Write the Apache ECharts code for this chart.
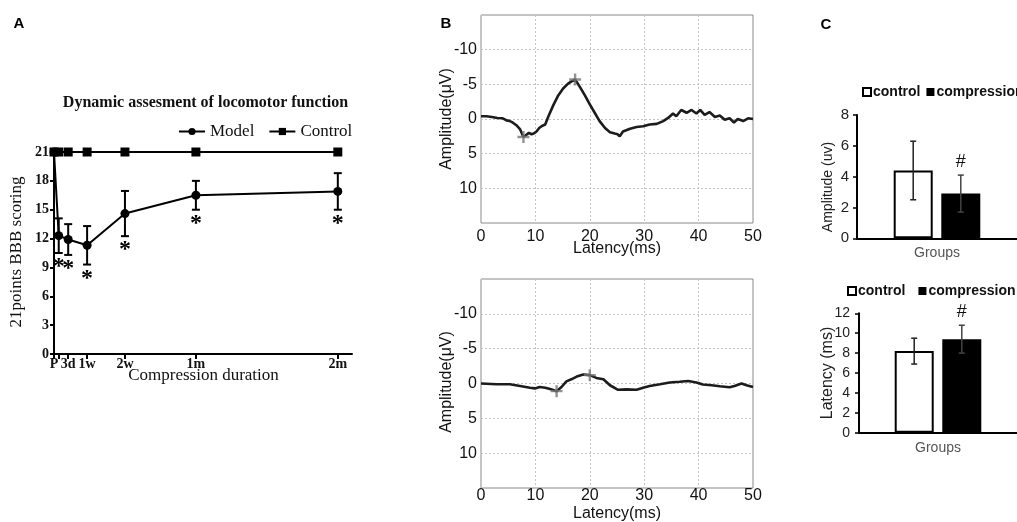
<!DOCTYPE html>
<html><head><meta charset="utf-8">
<script src="https://cdn.jsdelivr.net/npm/echarts@6/dist/echarts.min.js"></script>
<style>html,body{margin:0;padding:0;background:#fff;}#c{width:1017px;height:522px;}</style>
</head><body><div id="c"></div>
<script>
// ---------- Panel A data ----------
const aDays = [0, 1, 3, 7, 15, 30, 60];
const aTickDays = [0, 1, 3, 7, 15, 30, 60];
const aLabelDays = [0, 3, 7, 15, 30, 60];
const aLabelText = ['P', '3d', '1w', '2w', '1m', '2m'];
const modelMean = [21, 12.3, 11.9, 11.3, 14.6, 16.5, 16.9];
const modelErr = [0, 1.8, 1.6, 2.0, 2.35, 1.5, 1.9];
const modelSig = [0, 1, 1, 1, 1, 1, 1];
const controlMean = [21, 21, 21, 21, 21, 21, 21];

// ---------- Panel B data (latency ms, amplitude uV) ----------
const sepTopX = [0,1,2,3,4,4.7,5.3,5.8,6.5,7.2,7.8,8.3,8.8,9.3,9.7,10.2,10.7,11.2,11.8,12.4,13.3,14.2,15.1,16.0,16.8,17.3,18.2,19.1,20.0,20.9,21.8,22.8,23.7,24.6,25.1,25.5,26.1,27.4,28.6,29.8,31.0,32.3,33.5,34.4,35.3,35.9,36.8,37.8,38.7,39.6,40.3,41.1,42.0,43.0,43.9,44.8,45.7,46.5,47.2,48.2,49.1,50];
const sepTopY = [-0.4,-0.4,-0.3,-0.15,-0.1,0.2,0.3,0.5,0.9,1.5,2.6,2.3,2.0,2.2,2.1,1.8,1.3,1.0,0.8,-0.4,-2.0,-3.4,-4.4,-5.1,-5.5,-5.7,-4.6,-3.4,-2.1,-0.9,0.3,1.3,1.9,2.1,2.2,2.5,1.8,1.4,1.15,1.05,0.8,0.7,0.3,-0.15,-0.8,-0.4,-1.3,-0.9,-1.3,-0.8,-1.3,-0.6,-1.0,-0.3,-0.5,0.1,-0.1,0.5,0.0,0.3,-0.1,0.0];
const sepTopMarkX = [7.8, 17.3];
const sepTopMarkY = [2.6, -5.7];
const sepBotX = [0,2.9,5.3,7.2,9.0,9.9,10.8,11.8,12.7,13.9,14.8,15.7,16.6,17.6,18.8,20.0,21.2,22.5,23.7,25.2,26.7,28.6,29.8,31.0,32.9,34.7,36.5,38.1,39.6,40.8,42.4,43.9,45.7,46.6,47.9,48.8,50];
const sepBotY = [0,0.1,0.1,0.35,0.6,0.7,0.5,0.6,0.8,1.1,0.5,-0.3,-0.6,-1.0,-1.3,-1.2,-0.8,-0.6,0.25,0.9,0.85,0.9,0.6,0.35,0.1,-0.15,-0.25,-0.35,-0.15,0.15,0.25,0.4,0.55,0.35,0,0.25,0.5];
const sepBotMarkX = [13.9, 20.0];
const sepBotMarkY = [1.1, -1.2];

// ---------- Panel C data ----------
const cCategories = ['Groups'];
const ampMean = [4.4, 2.9];     // control, compression
const ampErr = [1.9, 1.2];
const latMean = [8.2, 9.4];
const latErr = [1.3, 1.4];
const cHash = [0, 1];

const SERIF = '"Liberation Serif", "Times New Roman", serif';
const SANS = '"Liberation Sans", Arial, sans-serif';
const BAR_W = 39, BAR_GAP = 0.22;

const chart = echarts.init(document.getElementById('c'), null, {renderer: 'canvas'});

function pairs(xs, ys) { return xs.map((x, i) => [x, ys[i]]); }

function bX(gi, margin) {
  return {type: 'value', gridIndex: gi, min: 0, max: 50, interval: 10,
    axisLine: {show: false}, axisTick: {show: false},
    axisLabel: {fontSize: 16, color: '#111', margin: margin, fontFamily: SANS},
    splitLine: {show: true, lineStyle: {type: [2, 2], color: '#c4c4c4', width: 1}}};
}
function bY(gi) {
  return {type: 'value', gridIndex: gi, min: -15, max: 15, interval: 5, inverse: true,
    axisLine: {show: false}, axisTick: {show: false},
    axisLabel: {fontSize: 16, color: '#111', margin: 4, fontFamily: SANS,
      formatter: v => (Math.abs(v) === 15 ? '' : String(v))},
    splitLine: {show: true, lineStyle: {type: [2, 2], color: '#c4c4c4', width: 1}}};
}
function cX(gi) {
  return {type: 'category', gridIndex: gi, data: cCategories,
    axisLine: {lineStyle: {color: '#000', width: 2}}, axisTick: {show: false},
    axisLabel: {fontSize: 14, color: '#555', margin: 8, fontFamily: SANS}};
}
function cY(gi, max, fs, margin) {
  return {type: 'value', gridIndex: gi, min: 0, max: max, interval: 2,
    axisLine: {show: true, lineStyle: {color: '#000', width: 2}},
    axisTick: {show: true, length: 4, lineStyle: {color: '#000', width: 1.5}},
    axisLabel: {fontSize: fs, color: '#222', margin: margin, fontFamily: SANS},
    splitLine: {show: false}};
}
function cLegend(left, top, gap) {
  return {left: left, top: top, width: 400, orient: 'horizontal', itemWidth: 8, itemHeight: 8, itemGap: gap, icon: 'rect',
    textStyle: {fontFamily: SANS, fontSize: 14, fontWeight: 'bold', color: '#111', padding: [0, 0, 0, -3]},
    data: [{name: 'control', itemStyle: {color: '#fff', borderColor: '#000', borderWidth: 2}},
           {name: 'compression', itemStyle: {color: '#000', borderColor: '#000', borderWidth: 0}}]};
}

function errC(params, api) {
  const cat = api.value(0), m = api.value(1), e = api.value(2), side = api.value(3), hash = api.value(4);
  const off = (BAR_W * (1 + BAR_GAP)) / 2 * side;
  const c = api.coord([cat, m]);
  const x = c[0] + off;
  const yt = api.coord([cat, m + e])[1];
  const yb = api.coord([cat, m - e])[1];
  const cw = 3;
  const st = {stroke: side < 0 ? '#222' : '#444', lineWidth: 1.5};
  const ch = [
    {type: 'line', shape: {x1: x, y1: yt, x2: x, y2: yb}, style: st},
    {type: 'line', shape: {x1: x - cw, y1: yt, x2: x + cw, y2: yt}, style: st},
    {type: 'line', shape: {x1: x - cw, y1: yb, x2: x + cw, y2: yb}, style: st}
  ];
  if (hash) ch.push({type: 'text', x: x, y: yt - 13, style: {text: '#', font: '18px ' + SANS, fill: '#111', align: 'center', verticalAlign: 'middle'}});
  return {type: 'group', children: ch};
}

const option = {
  animation: false,
  backgroundColor: '#fff',
  grid: [
    {left: 54, top: 152, width: 298, height: 202},
    {left: 481, top: 15, width: 272, height: 208, show: true, borderColor: '#8a8a8a', borderWidth: 1},
    {left: 481, top: 279, width: 272, height: 209, show: true, borderColor: '#8a8a8a', borderWidth: 1},
    {left: 857, top: 115, width: 171, height: 123.3},
    {left: 859, top: 313.3, width: 167, height: 119.4}
  ],
  xAxis: [
    {type: 'value', gridIndex: 0, min: 0, max: 63,
      axisLine: {lineStyle: {color: '#000', width: 2}},
      axisTick: {show: true, customValues: aTickDays, length: 5, lineStyle: {color: '#000', width: 2}},
      axisLabel: {customValues: aLabelDays, margin: 3, fontSize: 14, fontWeight: 'bold', color: '#111', fontFamily: SERIF,
        formatter: v => { const i = aLabelDays.indexOf(v); return i >= 0 ? aLabelText[i] : ''; }},
      splitLine: {show: false}},
    bX(1, 6), bX(2, 0), cX(3), cX(4)
  ],
  yAxis: [
    {type: 'value', gridIndex: 0, min: 0, max: 21, interval: 3,
      axisLine: {show: true, lineStyle: {color: '#000', width: 2}},
      axisTick: {show: true, length: 4, lineStyle: {color: '#000', width: 2}},
      axisLabel: {margin: 5, fontSize: 14, fontWeight: 'bold', color: '#111', fontFamily: SERIF},
      splitLine: {show: false}},
    bY(1), bY(2), cY(3, 8, 15, 8), cY(4, 12, 14, 9)
  ],
  legend: [
    {left: 173, top: 118, itemWidth: 26, itemHeight: 9, itemGap: 14,
      textStyle: {fontFamily: SERIF, fontSize: 17, color: '#111'},
      data: ['Model', 'Control']},
    cLegend(857, 80, 6),
    cLegend(842, 279, 13)
  ],
  series: [
    // Panel A
    {name: 'Control', type: 'line', xAxisIndex: 0, yAxisIndex: 0,
      data: pairs(aDays, controlMean), symbol: 'rect', symbolSize: 9,
      itemStyle: {color: '#000'}, lineStyle: {color: '#000', width: 1.8}, z: 3},
    {name: 'Model', type: 'line', xAxisIndex: 0, yAxisIndex: 0,
      data: pairs(aDays, modelMean), symbol: 'circle', symbolSize: 9,
      itemStyle: {color: '#000'}, lineStyle: {color: '#000', width: 2}, z: 4},
    {name: 'ModelErr', type: 'custom', xAxisIndex: 0, yAxisIndex: 0, z: 5,
      data: aDays.map((d, i) => [d, modelMean[i], modelErr[i], modelSig[i]]),
      renderItem: function (params, api) {
        const x = api.value(0), m = api.value(1), e = api.value(2), sig = api.value(3);
        if (!e) return null;
        const t = api.coord([x, m + e]), b = api.coord([x, m - e]);
        const st = {stroke: '#000', lineWidth: 2};
        const ch = [
          {type: 'line', shape: {x1: t[0], y1: t[1], x2: b[0], y2: b[1]}, style: st},
          {type: 'line', shape: {x1: t[0] - 4, y1: t[1], x2: t[0] + 4, y2: t[1]}, style: st},
          {type: 'line', shape: {x1: b[0] - 4, y1: b[1], x2: b[0] + 4, y2: b[1]}, style: st}
        ];
        if (sig) ch.push({type: 'text', x: b[0], y: b[1] + 2,
          style: {text: '*', font: 'bold 24px ' + SERIF, fill: '#000', align: 'center', verticalAlign: 'top'}});
        return {type: 'group', children: ch};
      }},
    // Panel B
    {name: 'SEP top', type: 'line', xAxisIndex: 1, yAxisIndex: 1, data: pairs(sepTopX, sepTopY),
      showSymbol: false, lineStyle: {color: '#1c1c1c', width: 2.6}, z: 3},
    {name: 'SEP top peaks', type: 'scatter', xAxisIndex: 1, yAxisIndex: 1, data: pairs(sepTopMarkX, sepTopMarkY),
      symbol: 'path://M4,0H6V4H10V6H6V10H4V6H0V4H4Z', symbolSize: 12, itemStyle: {color: '#777'}, z: 4},
    {name: 'SEP bottom', type: 'line', xAxisIndex: 2, yAxisIndex: 2, data: pairs(sepBotX, sepBotY),
      showSymbol: false, lineStyle: {color: '#1c1c1c', width: 2.6}, z: 3},
    {name: 'SEP bottom peaks', type: 'scatter', xAxisIndex: 2, yAxisIndex: 2, data: pairs(sepBotMarkX, sepBotMarkY),
      symbol: 'path://M4,0H6V4H10V6H6V10H4V6H0V4H4Z', symbolSize: 12, itemStyle: {color: '#777'}, z: 4},
    // Panel C top (amplitude)
    {name: 'control', type: 'bar', xAxisIndex: 3, yAxisIndex: 3, data: [ampMean[0]], barWidth: BAR_W, barGap: (BAR_GAP * 100) + '%',
      itemStyle: {color: '#fff', borderColor: '#000', borderWidth: 2}},
    {name: 'compression', type: 'bar', xAxisIndex: 3, yAxisIndex: 3, data: [ampMean[1]], barWidth: BAR_W,
      itemStyle: {color: '#000'}},
    {name: 'ampErr', type: 'custom', xAxisIndex: 3, yAxisIndex: 3, z: 5, renderItem: errC,
      data: [[0, ampMean[0], ampErr[0], -1, cHash[0]], [0, ampMean[1], ampErr[1], 1, cHash[1]]]},
    // Panel C bottom (latency)
    {name: 'control', type: 'bar', xAxisIndex: 4, yAxisIndex: 4, data: [latMean[0]], barWidth: BAR_W, barGap: (BAR_GAP * 100) + '%',
      itemStyle: {color: '#fff', borderColor: '#000', borderWidth: 2}},
    {name: 'compression', type: 'bar', xAxisIndex: 4, yAxisIndex: 4, data: [latMean[1]], barWidth: BAR_W,
      itemStyle: {color: '#000'}},
    {name: 'latErr', type: 'custom', xAxisIndex: 4, yAxisIndex: 4, z: 5, renderItem: errC,
      data: [[0, latMean[0], latErr[0], -1, cHash[0]], [0, latMean[1], latErr[1], 1, cHash[1]]]}
  ],
  graphic: [
    {type: 'text', x: 19, y: 24, style: {text: 'A', font: 'bold 15px ' + SANS, fill: '#000', align: 'center', verticalAlign: 'middle'}},
    {type: 'text', x: 446, y: 24, style: {text: 'B', font: 'bold 15px ' + SANS, fill: '#000', align: 'center', verticalAlign: 'middle'}},
    {type: 'text', x: 826, y: 25, style: {text: 'C', font: 'bold 15px ' + SANS, fill: '#000', align: 'center', verticalAlign: 'middle'}},
    {type: 'text', x: 205.5, y: 103, style: {text: 'Dynamic assesment of locomotor function', font: 'bold 16px ' + SERIF, fill: '#111', align: 'center', verticalAlign: 'middle'}},
    {type: 'text', x: 17, y: 252, rotation: Math.PI / 2, style: {text: '21points BBB scoring', font: '17px ' + SERIF, fill: '#111', align: 'center', verticalAlign: 'middle'}},
    {type: 'text', x: 203.5, y: 376, style: {text: 'Compression duration', font: '17px ' + SERIF, fill: '#111', align: 'center', verticalAlign: 'middle'}},
    {type: 'text', x: 447, y: 119, rotation: Math.PI / 2, style: {text: 'Amplitude(μV)', font: '16px ' + SANS, fill: '#111', align: 'center', verticalAlign: 'middle'}},
    {type: 'text', x: 447, y: 382, rotation: Math.PI / 2, style: {text: 'Amplitude(μV)', font: '16px ' + SANS, fill: '#111', align: 'center', verticalAlign: 'middle'}},
    {type: 'text', x: 617, y: 249, style: {text: 'Latency(ms)', font: '16px ' + SANS, fill: '#111', align: 'center', verticalAlign: 'middle'}},
    {type: 'text', x: 617, y: 514, style: {text: 'Latency(ms)', font: '16px ' + SANS, fill: '#111', align: 'center', verticalAlign: 'middle'}},
    {type: 'text', x: 828, y: 187, rotation: Math.PI / 2, style: {text: 'Amplitude (uv)', font: '14px ' + SANS, fill: '#222', align: 'center', verticalAlign: 'middle'}},
    {type: 'text', x: 828, y: 373, rotation: Math.PI / 2, style: {text: 'Latency (ms)', font: '16px ' + SANS, fill: '#222', align: 'center', verticalAlign: 'middle'}}
  ]
};
chart.setOption(option);
</script>
</body></html>
